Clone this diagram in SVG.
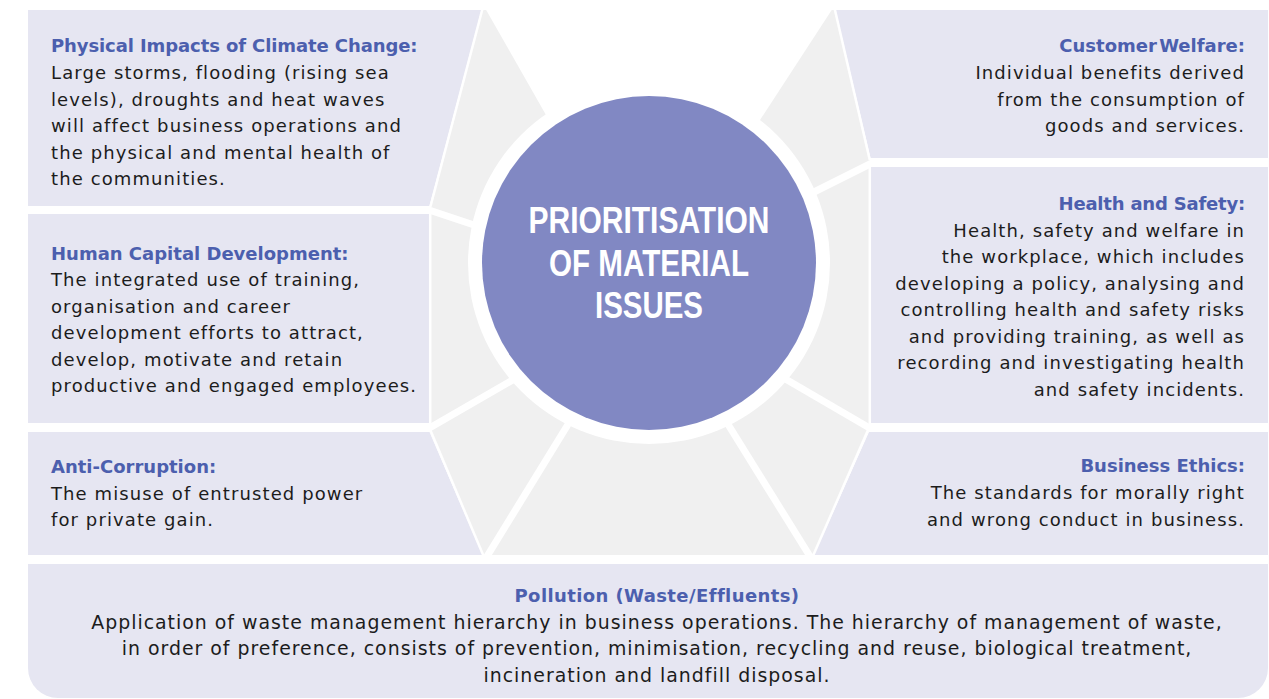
<svg xmlns="http://www.w3.org/2000/svg" width="1269" height="699" viewBox="0 0 1269 699">
<style>
.panel{fill:#e6e6f2}
.ray{fill:#f0f0f0}
.sep{stroke:#fff;stroke-width:7;fill:none}
.thin{stroke:#fff;stroke-width:2.5;fill:none}
.t{font-family:"DejaVu Sans","Liberation Sans",sans-serif;font-size:18px;letter-spacing:1.1px;fill:#1c1c1c}
.h{font-weight:bold;fill:#4c5fae;letter-spacing:0px}
.b{font-size:18.9px;letter-spacing:1px}
.r{text-anchor:end}
.m{text-anchor:middle}
.ct{font-family:"Liberation Sans Narrow","Liberation Sans",sans-serif;font-weight:bold;font-size:36px;fill:#fff;text-anchor:middle}
</style>
<rect width="1269" height="699" fill="#fff"/>
<g id="rays">
<polygon class="ray" points="482,10 835,10 870,158 870,428 813,555 484,555 430,432 430,206"/>
<polygon fill="#fff" points="485,8 546,115 649,263 760,120 833,8"/>
<line class="sep" x1="426" y1="209" x2="492" y2="231"/>
<line class="sep" x1="426" y1="430" x2="530" y2="370"/>
<line class="sep" x1="486" y1="558" x2="575" y2="413"/>
<line class="sep" x1="811" y1="558" x2="721" y2="413"/>
<line class="sep" x1="873" y1="430" x2="770" y2="370"/>
<line class="sep" x1="874" y1="162" x2="800" y2="199"/>
</g>
<g id="physical-impacts">
<polygon class="panel" points="28,10 481.5,10 429.5,206 28,206"/>
<text class="t h" x="51" y="52" style="letter-spacing:-0.1px">Physical Impacts of Climate Change:</text>
<text class="t" x="51" y="79">Large storms, flooding (rising sea</text>
<text class="t" x="51" y="105.5">levels), droughts and heat waves</text>
<text class="t" x="51" y="132">will affect business operations and</text>
<text class="t" x="51" y="158.5">the physical and mental health of</text>
<text class="t" x="51" y="185">the communities.</text>
</g>
<g id="human-capital">
<rect class="panel" x="28" y="214" width="401" height="209"/>
<text class="t h" x="51" y="259.5">Human Capital Development:</text>
<text class="t" x="51" y="286">The integrated use of training,</text>
<text class="t" x="51" y="312.5">organisation and career</text>
<text class="t" x="51" y="339">development efforts to attract,</text>
<text class="t" x="51" y="365.5">develop, motivate and retain</text>
<text class="t" x="51" y="392">productive and engaged employees.</text>
</g>
<g id="anti-corruption">
<polygon class="panel" points="28,432 429.5,432 482.5,555 28,555"/>
<text class="t h" x="51" y="473">Anti-Corruption:</text>
<text class="t" x="51" y="499.5">The misuse of entrusted power</text>
<text class="t" x="51" y="526">for private gain.</text>
</g>
<g id="customer-welfare">
<polygon class="panel" points="835.5,10 1268,10 1268,158 870.5,158"/>
<text class="t h r" x="1245" y="52" word-spacing="-4">Customer Welfare:</text>
<text class="t r" x="1245" y="79">Individual benefits derived</text>
<text class="t r" x="1245" y="105.5">from the consumption of</text>
<text class="t r" x="1245" y="132">goods and services.</text>
</g>
<g id="health-safety">
<rect class="panel" x="871" y="167" width="397" height="256"/>
<text class="t h r" x="1245" y="210" style="letter-spacing:-0.2px">Health and Safety:</text>
<text class="t r" x="1245" y="236.5">Health, safety and welfare in</text>
<text class="t r" x="1245" y="263">the workplace, which includes</text>
<text class="t r" x="1245" y="289.5">developing a policy, analysing and</text>
<text class="t r" x="1245" y="316">controlling health and safety risks</text>
<text class="t r" x="1245" y="342.5">and providing training, as well as</text>
<text class="t r" x="1245" y="369">recording and investigating health</text>
<text class="t r" x="1245" y="395.5">and safety incidents.</text>
</g>
<g id="business-ethics">
<polygon class="panel" points="869,432 1268,432 1268,555 814,555"/>
<text class="t h r" x="1245" y="472">Business Ethics:</text>
<text class="t r" x="1245" y="499">The standards for morally right</text>
<text class="t r" x="1245" y="525.5">and wrong conduct in business.</text>
</g>
<g id="pollution">
<path class="panel" d="M28,564 H1268 V668 A30,30 0 0 1 1238,698 H58 A30,30 0 0 1 28,668 Z"/>
<text class="t h m" x="657" y="602" style="letter-spacing:0.4px">Pollution (Waste/Effluents)</text>
<text class="t b m" x="657" y="628.5">Application of waste management hierarchy in business operations. The hierarchy of management of waste,</text>
<text class="t b m" x="657" y="655">in order of preference, consists of prevention, minimisation, recycling and reuse, biological treatment,</text>
<text class="t b m" x="657" y="681.5">incineration and landfill disposal.</text>
</g>
<g id="borders">
<line class="thin" x1="482.7" y1="8" x2="430.3" y2="207"/>
<line class="thin" x1="430.2" y1="212" x2="430.2" y2="426"/>
<line class="thin" x1="430.3" y1="430" x2="484" y2="557"/>
<line class="thin" x1="834.5" y1="8" x2="869.8" y2="160"/>
<line class="thin" x1="869.8" y1="165" x2="869.8" y2="426"/>
<line class="thin" x1="868" y1="430" x2="812.5" y2="557"/>
</g>
<g id="center">
<circle cx="649" cy="263" r="181" fill="#fff"/>
<circle cx="649" cy="263" r="167" fill="#8188c3"/>
<text class="ct" x="649" y="233" textLength="241" lengthAdjust="spacingAndGlyphs">PRIORITISATION</text>
<text class="ct" x="649" y="276" textLength="200" lengthAdjust="spacingAndGlyphs">OF MATERIAL</text>
<text class="ct" x="649" y="318" textLength="108" lengthAdjust="spacingAndGlyphs">ISSUES</text>
</g>
</svg>
